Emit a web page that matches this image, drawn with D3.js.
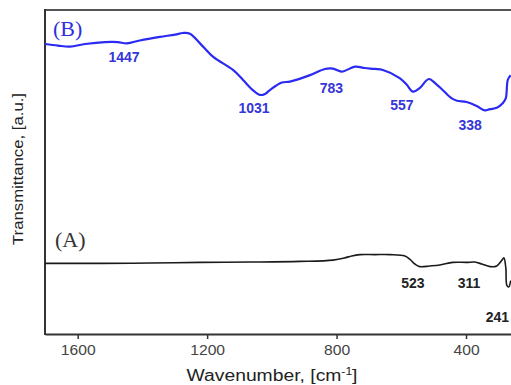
<!DOCTYPE html>
<html>
<head>
<meta charset="UTF-8">
<script src="https://cdn.jsdelivr.net/npm/d3@7"></script>
<style>
  body { margin: 0; background: #fff; }
  text { font-family: "Liberation Sans", Arial, sans-serif; }
  .peak { font-weight: bold; font-size: 14px; }
  .tag { font-family: "Liberation Serif", "Times New Roman", serif; font-size: 22px; }
</style>
</head>
<body>
<script>

  // spectrum B (blue), wavenumber [cm-1] and transmittance [a.u.]
  var waveB = [1701, 1661, 1624, 1577, 1516, 1476, 1448, 1408, 1346, 1299, 1275, 1253, 1222, 1182,
    1120, 1089, 1058, 1037, 1021, 1006, 969, 944, 882, 836, 811, 784, 743, 713, 682, 657, 605, 583,
    564, 543, 515, 493, 472, 444, 428, 398, 367, 342, 326, 305, 286, 277, 271, 262];
  var transB = [89.5, 89.0, 88.7, 89.5, 90.1, 90.1, 89.7, 90.6, 91.7, 92.4, 92.9, 92.7, 89.7, 85.6,
    81.5, 78.4, 75.2, 73.8, 74.1, 75.3, 77.6, 77.9, 79.9, 81.8, 81.9, 81.0, 82.5, 82.1, 81.8, 81.5, 79.0, 76.9,
    74.8, 75.9, 78.7, 77.2, 75.3, 72.7, 72.0, 71.6, 70.4, 69.0, 69.4, 69.8, 71.3, 72.8, 78.4, 79.9];

  // spectrum A (black)
  var waveA = [1701, 1531, 1377, 1222, 1068, 913, 811, 774, 753, 728, 682, 635, 589, 574, 558, 543,
    512, 481, 441, 398, 373, 351, 326, 305, 289, 283, 277, 274, 268, 262];
  var transA = [21.8, 21.8, 21.9, 22.1, 22.2, 22.4, 22.8, 23.5, 24.1, 24.5, 24.5, 24.5, 24.1, 23.1, 21.6, 20.8,
    21.0, 21.3, 22.1, 22.1, 22.2, 21.6, 20.8, 21.0, 22.8, 23.5, 20.4, 15.1, 14.5, 16.5];

  // band labels, placed in data coordinates
  var labelsB = ["1447", "1031", "783", "557", "338"];
  var labelsBWave = [1457, 1055, 816, 598, 387];
  var labelsBTrans = [84.0, 68.2, 74.4, 69.1, 63.0];
  var labelsA = ["523", "311", "241"];
  var labelsAWave = [564, 391, 303];
  var labelsATrans = [14.2, 14.2, 3.7];

  var xTicks = [1600, 1200, 800, 400];

  var width = 511, height = 385;
  var margin = {left: 45, right: 0, top: 10, bottom: 51};

  var x = d3.scaleLinear()
    .domain([1701, 261])
    .range([margin.left, width - margin.right]);

  var y = d3.scaleLinear()
    .domain([0, 100])
    .range([height - margin.bottom, margin.top]);

  var svg = d3.select("body").append("svg")
    .attr("width", width)
    .attr("height", height);

  var line = d3.line()
    .x(d => x(d[0]))
    .y(d => y(d[1]))
    .curve(d3.curveCatmullRom.alpha(0.5));

  // top frame line
  svg.append("line")
    .attr("x1", margin.left).attr("x2", width)
    .attr("y1", margin.top).attr("y2", margin.top)
    .attr("stroke", "#555").attr("stroke-width", 2);

  // left axis (no ticks)
  svg.append("line")
    .attr("x1", margin.left).attr("x2", margin.left)
    .attr("y1", margin.top - 1).attr("y2", y(0) + 1)
    .attr("stroke", "#333").attr("stroke-width", 2);

  var xAxis = svg.append("g")
    .attr("transform", `translate(0,${y(0)})`)
    .call(d3.axisBottom(x).tickValues(xTicks).tickFormat(d3.format("d"))
      .tickSize(5).tickPadding(6).tickSizeOuter(0));

  xAxis.select(".domain").attr("stroke", "#333").attr("stroke-width", 2);
  xAxis.selectAll(".tick line").attr("stroke", "#333").attr("stroke-width", 1.5);
  xAxis.selectAll(".tick text")
    .attr("fill", "#444")
    .style("font-size", "14px")
    .style("font-family", "'Liberation Sans', Arial, sans-serif")
    .attr("transform", "scale(1.12,1)");

  svg.append("path")
    .datum(d3.zip(waveB, transB))
    .attr("fill", "none")
    .attr("stroke", "#2a2af2")
    .attr("stroke-width", 2.2)
    .attr("d", line);

  svg.append("path")
    .datum(d3.zip(waveA, transA))
    .attr("fill", "none")
    .attr("stroke", "#1a1a1a")
    .attr("stroke-width", 1.6)
    .attr("d", line);

  svg.append("g").selectAll("text")
    .data(labelsB)
    .enter().append("text")
    .attr("class", "peak")
    .attr("text-anchor", "middle")
    .attr("fill", "#3535d8")
    .attr("x", (d, i) => x(labelsBWave[i]))
    .attr("y", (d, i) => y(labelsBTrans[i]))
    .text(d => d);

  svg.append("g").selectAll("text")
    .data(labelsA)
    .enter().append("text")
    .attr("class", "peak")
    .attr("text-anchor", "middle")
    .attr("fill", "#222")
    .attr("x", (d, i) => x(labelsAWave[i]))
    .attr("y", (d, i) => y(labelsATrans[i]))
    .text(d => d);

  svg.append("text")
    .attr("class", "tag")
    .attr("x", 53).attr("y", 36)
    .attr("fill", "#2f2fe0")
    .text("(B)");

  svg.append("text")
    .attr("class", "tag")
    .attr("x", 55).attr("y", 247)
    .attr("fill", "#333")
    .text("(A)");

  // axis titles
  var xTitle = svg.append("text")
    .attr("x", 272).attr("y", 381)
    .attr("text-anchor", "middle")
    .attr("fill", "#222")
    .style("font-size", "16px")
    .attr("textLength", 171)
    .attr("lengthAdjust", "spacingAndGlyphs");
  xTitle.append("tspan").text("Wavenumber, [cm");
  xTitle.append("tspan").attr("dy", -6).style("font-size", "10px").text("-1");
  xTitle.append("tspan").attr("dy", 6).text("]");

  svg.append("text")
    .attr("transform", "translate(23,169) rotate(-90)")
    .attr("text-anchor", "middle")
    .attr("fill", "#222")
    .style("font-size", "14px")
    .attr("textLength", 152)
    .attr("lengthAdjust", "spacingAndGlyphs")
    .text("Transmittance, [a.u.]");

</script>
</body>
</html>
